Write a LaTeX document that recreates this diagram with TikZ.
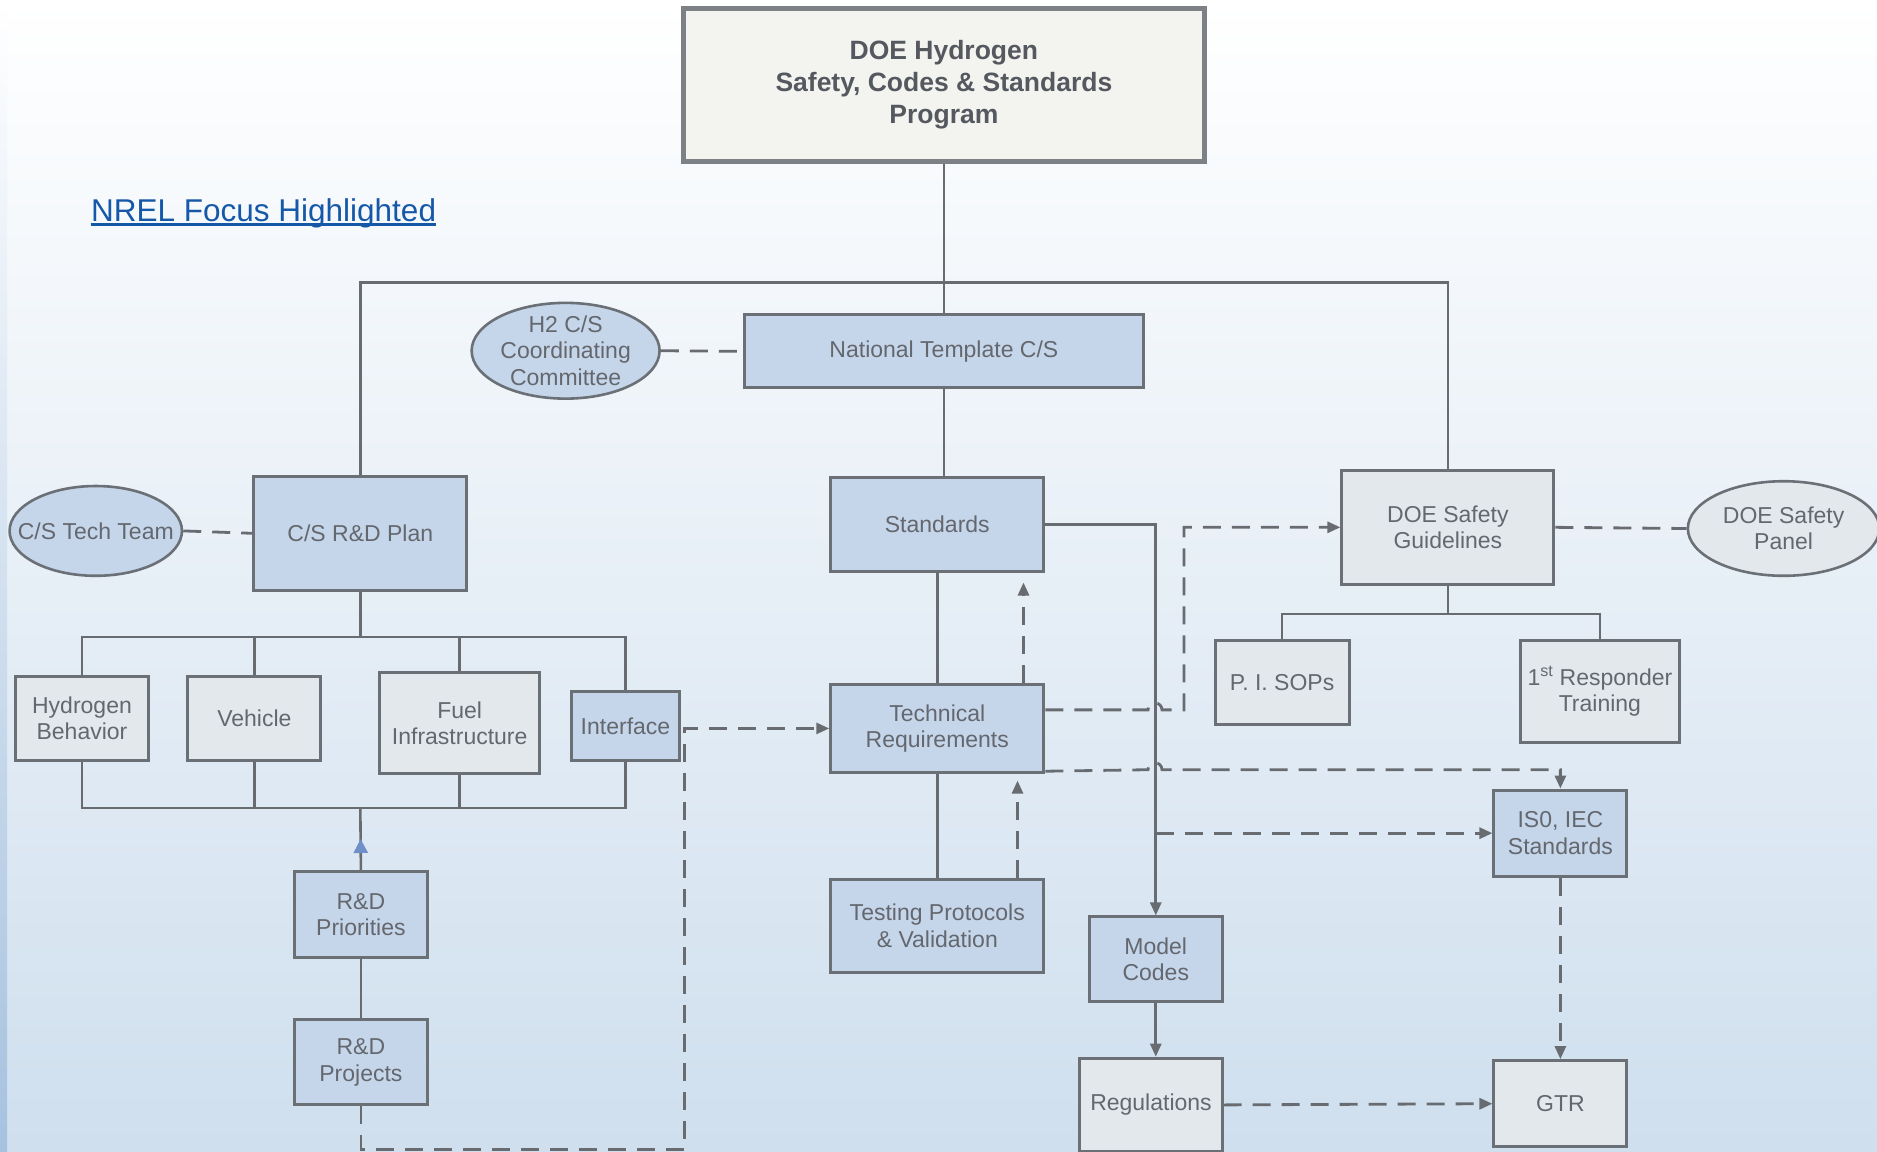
\documentclass[tikz,border=0pt]{standalone}
\usepackage{fontspec}
\setmainfont{Liberation Sans}
\usetikzlibrary{shapes.geometric,arrows.meta,calc,decorations.markings}
\definecolor{bordc}{RGB}{106,112,118}
\definecolor{linec}{RGB}{104,108,113}
\definecolor{txtc}{RGB}{100,104,110}
\definecolor{bluef}{RGB}{197,213,234}
\definecolor{grayf}{RGB}{227,232,237}
\definecolor{doef}{RGB}{243,244,240}
\definecolor{doeb}{RGB}{125,128,132}
\definecolor{nrelblue}{RGB}{22,88,168}
\definecolor{tipblue}{RGB}{110,143,200}
\definecolor{bgbot}{RGB}{207,223,238}
\definecolor{bgmid}{RGB}{232,238,245}
\definecolor{strip}{RGB}{166,194,223}
\newcommand\boxfont{\fontsize{23}{26.5}\selectfont}
\tikzset{
  bx/.style n args={4}{at={(#1,#2)}, minimum width=#3*1.197pt, minimum height=#4*1.197pt},
  box/.style={rectangle, draw=bordc, line width=3pt, inner sep=0pt, text=txtc, align=center, font=\boxfont},
  bluebox/.style={box, fill=bluef},
  graybox/.style={box, fill=grayf},
  oval/.style={ellipse, draw=bordc, line width=2.6pt, inner sep=0pt},
  ovaltext/.style={inner sep=0pt, text=txtc, align=center, font=\boxfont},
  conn/.style={draw=linec, line width=2.6pt},
  dconn/.style={draw=linec, line width=2.8pt, dash pattern=on 18pt off 11pt},
  tip/.style={-{Triangle[length=13pt,width=11pt]}},
}
\begin{document}
\begin{tikzpicture}[x=1.197pt,y=-1.197pt]
% background
\useasboundingbox (0,0) rectangle (1568,962);
\shade[top color=white, middle color=bgmid, bottom color=bgbot] (0,0) rectangle (1568,962);
\shade[top color=white, bottom color=strip] (0,0) rectangle (6,962);

% top box
\node[draw=doeb, line width=5pt, fill=doef, inner sep=0pt, bx={788.5}{71}{435}{128}, text=txtc!85!black, align=center,
      font=\bfseries\fontsize{26.5}{32}\selectfont] (doe) {DOE Hydrogen\\Safety, Codes \& Standards\\Program};

% title
\node[inner sep=0pt, anchor=base west, text=nrelblue, font=\fontsize{31.5}{36}\selectfont] (nrel) at (76,185) {NREL Focus Highlighted};
\draw[nrelblue, line width=2.4pt] ([yshift=-3pt]nrel.base west) -- ([yshift=-3pt]nrel.base east);

% second level
\node[bluebox, bx={788.5}{293.5}{333}{61}] (nat) {National Template C/S};
\node[oval, fill=bluef, bx={472.5}{293}{157}{80}] (h2) {};
\node[ovaltext] at (h2) {H2 C/S\\Coordinating\\Committee};
\node[bluebox, bx={301}{445.5}{178}{95}] (plan) {C/S R\&D Plan};
\node[oval, fill=bluef, bx={80}{443.5}{144}{75}] (tt) {};
\node[ovaltext] at (tt) {C/S Tech Team};
\node[bluebox, bx={783}{438}{178}{78}] (std) {Standards};
\node[graybox, bx={1209.5}{440.5}{177}{95}] (guide) {DOE Safety\\Guidelines};
\node[oval, fill=grayf, bx={1490}{441.5}{160}{79}] (panel) {};
\node[ovaltext] at (panel) {DOE Safety\\Panel};

% R&D plan children
\node[graybox, bx={68.5}{600}{111}{70}] (hb) {Hydrogen\\Behavior};
\node[graybox, bx={212.5}{600}{111}{70}] (veh) {Vehicle};
\node[graybox, bx={384}{604}{134}{84}] (fuel) {Fuel\\Infrastructure};
\node[bluebox, bx={522.5}{606.5}{91}{57}] (iface) {Interface};
\node[bluebox, bx={301.5}{764}{111}{72}] (prio) {R\&D\\Priorities};
\node[bluebox, bx={301.5}{887.5}{111}{71}] (proj) {R\&D\\Projects};

% center column
\node[bluebox, bx={783}{608.5}{178}{73}] (tr) {Technical\\Requirements};
\node[bluebox, bx={783}{773.5}{178}{77}] (test) {Testing Protocols\\\& Validation};
\node[bluebox, bx={965.5}{801.5}{111}{71}] (mc) {Model\\Codes};
\node[graybox, bx={961.5}{923}{119}{78}] (reg) {Regulations};

% right column
\node[graybox, bx={1071}{570}{112}{70}] (sop) {P. I. SOPs};
\node[graybox, bx={1336.5}{577.5}{133}{85}] (resp) {1\textsuperscript{st} Responder\\Training};
\node[bluebox, bx={1303.5}{696}{111}{72}] (iso) {IS0, IEC\\Standards};
\node[graybox, bx={1303.5}{922}{111}{72}] (gtr) {GTR};

% coordinates
\coordinate (topbus) at (788.5,236);
\coordinate (b1) at (301,532);
\coordinate (b2) at (301,675);
\coordinate (b3) at (1209.5,513);
\coordinate (c1) at (572,960);
\coordinate (c2) at (989,593);

% solid tree connectors
\draw[conn] (doe.south) -- (nat.north);
\draw[conn] (plan.north) |- (topbus) -| (guide.north);
\draw[conn] (nat.south) -- (nat.south |- std.north);
\draw[conn] (std.south) -- (tr.north);
\draw[conn] (tr.south) -- (test.north);
\draw[conn] (plan.south) -- (b1);
\draw[conn] (hb.north) |- (b1) -| (iface.north);
\draw[conn] (veh.north) -- (veh.north |- b1);
\draw[conn] (fuel.north) -- (fuel.north |- b1);
\draw[conn] (hb.south) |- (b2) -| (iface.south);
\draw[conn] (veh.south) -- (veh.south |- b2);
\draw[conn] (fuel.south) -- (fuel.south |- b2);
\draw[conn, postaction={decorate}, decoration={markings, mark=at position 0.5 with {\arrow[tipblue]{Triangle[length=14pt,width=14pt]}}}] (prio.north) -- (b2);
\draw[conn] (prio.south) -- (proj.north);
\draw[conn] (guide.south) -- (b3);
\draw[conn] (sop.north) |- (b3) -| (resp.north);
\draw[conn, tip] (std.east) -| (mc.north);
\draw[conn, tip] (mc.south) -- (mc.south |- reg.north);

% dashed links to ovals
\draw[dconn] (h2.east) -- (nat.west);
\draw[dconn] (tt.east) -- (plan.west);
\draw[dconn] (guide.east) -- (panel.west);

% dashed flows
\draw[dconn, tip] (proj.south) |- (c1) |- (tr.west);
\draw[dconn, tip, shorten >=10pt] (tr.north -| 855,0) -- (std.south -| 855,0);
\draw[dconn, tip, shorten >=7pt] (test.north -| 850,0) -- (tr.south -| 850,0);
\draw[dconn, tip] (tr.east |- c2) -- (959,593) arc[start angle=180, end angle=0, radius=7pt] -- (c2) |- (guide.west);
\draw[dconn, tip] ($(tr.south east)+(0,-2)$) -- (959,643) arc[start angle=180, end angle=0, radius=7pt] -| (iso.north);
\draw[dconn, tip] (mc.north |- iso.west) -- (iso.west);
\draw[dconn, tip] (iso.south) -- (gtr.north);
\draw[dconn, tip] (reg.east) -- (gtr.west);
\end{tikzpicture}
\end{document}
